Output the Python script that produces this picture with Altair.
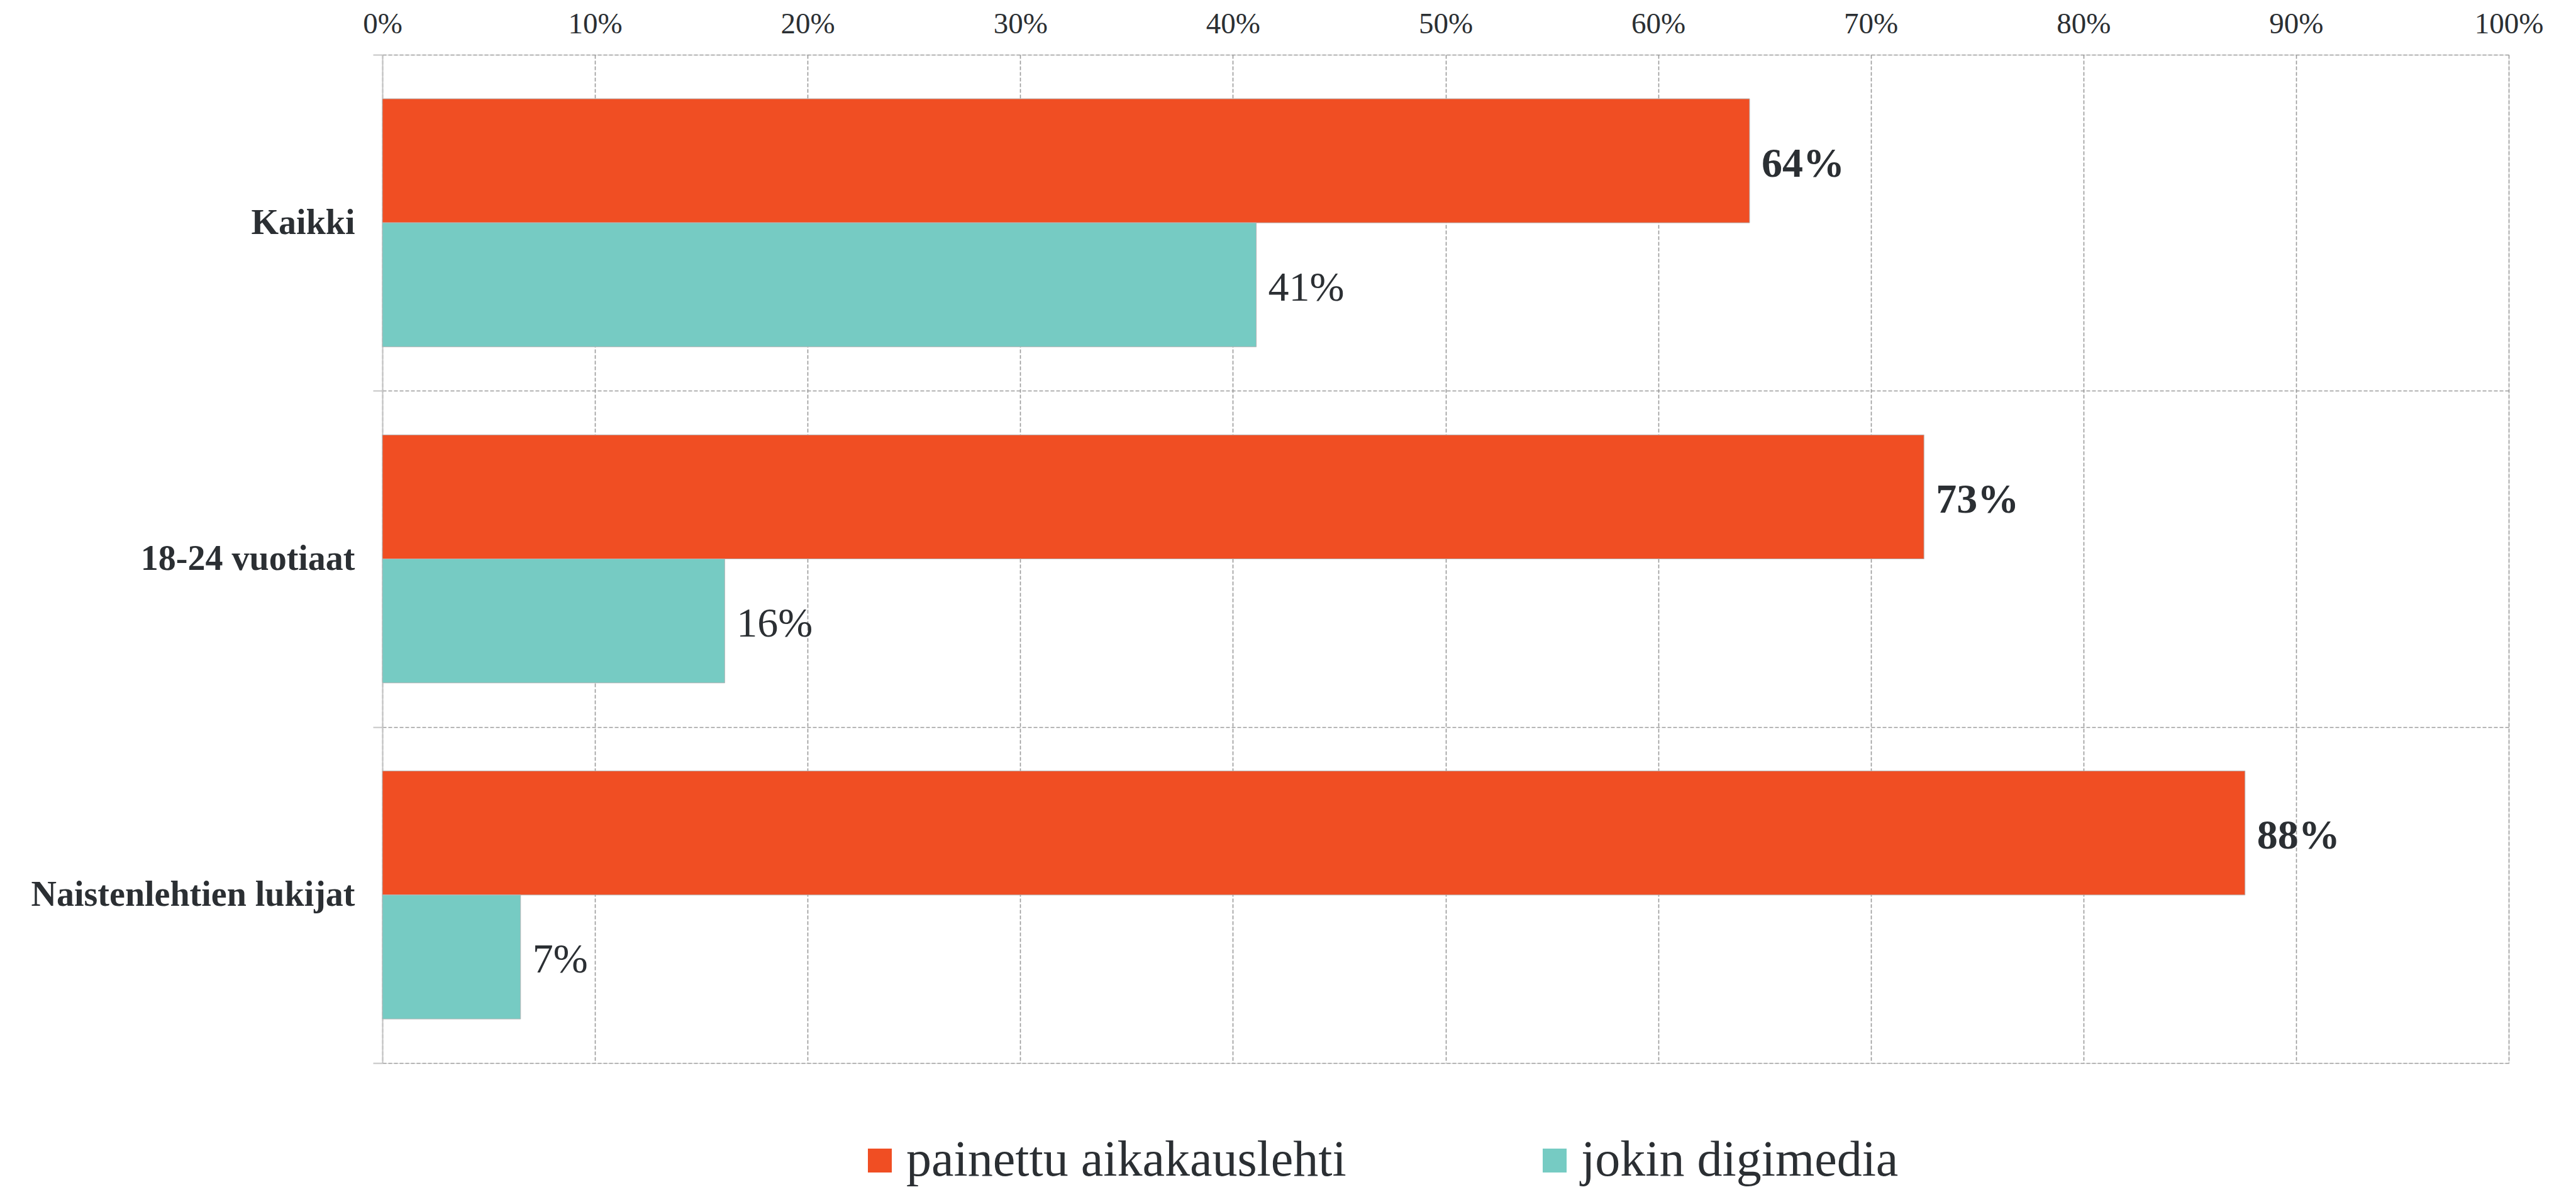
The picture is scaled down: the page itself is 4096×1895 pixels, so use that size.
import altair as alt
import pandas as pd

categories = ["Kaikki", "18-24 vuotiaat", "Naistenlehtien lukijat"]
series = ["painettu aikakauslehti", "jokin digimedia"]
printed = [0.643, 0.725, 0.876]
digital = [0.411, 0.161, 0.065]
printed_labels = ["64%", "73%", "88%"]
digital_labels = ["41%", "16%", "7%"]
colors = ["#F04E23", "#76CBC3"]
x_ticks = [0.0, 0.1, 0.2, 0.3, 0.4, 0.5, 0.6, 0.7, 0.8, 0.9, 1.0]

rows = []
for i, c in enumerate(categories):
    rows.append(dict(cat=c, series=series[0], value=printed[i], label=printed_labels[i]))
    rows.append(dict(cat=c, series=series[1], value=digital[i], label=digital_labels[i]))
df = pd.DataFrame(rows)

FONT = "Liberation Serif"
TEXT = "#2b2f33"
GRID = "#9a9a9a"
W, H = 3381, 1603

y_enc = alt.Y(
    "cat:N",
    sort=categories,
    scale=alt.Scale(paddingInner=0, paddingOuter=0),
    axis=alt.Axis(
        title=None,
        tickBand="extent",
        grid=True,
        gridColor=GRID,
        gridDash=[6, 3],
        gridWidth=1.6,
        domain=True,
        domainColor="#c4c4c4",
        domainWidth=2,
        ticks=True,
        tickSize=15,
        tickColor="#c4c4c4",
        tickWidth=2,
        labelPadding=29,
        labelFont=FONT,
        labelFontSize=56,
        labelFontWeight="bold",
        labelColor=TEXT,
        labelLimit=1000,
    ),
)
yoff_enc = alt.YOffset(
    "series:N", sort=series, scale=alt.Scale(domain=series, paddingInner=0, paddingOuter=0.355)
)
x_enc = alt.X(
    "value:Q",
    scale=alt.Scale(domain=[0, 1], nice=False),
    axis=alt.Axis(
        title=None,
        orient="top",
        values=x_ticks,
        format=".0%",
        grid=True,
        gridColor=GRID,
        gridDash=[6, 3],
        gridWidth=1.6,
        domain=False,
        ticks=False,
        tickSize=0,
        labelFlush=False,
        labelPadding=25,
        labelFont=FONT,
        labelFontSize=47,
        labelColor=TEXT,
    ),
)

base = alt.Chart(df)

bars = base.mark_bar(stroke="#b5b5b5", strokeWidth=1).encode(
    x=x_enc,
    y=y_enc,
    yOffset=yoff_enc,
    color=alt.Color(
        "series:N",
        sort=series,
        scale=alt.Scale(domain=series, range=colors),
        legend=alt.Legend(
            title=None,
            orient="none",
            legendX=751,
            legendY=1718,
            padding=0,
            direction="horizontal",
            symbolType="square",
            symbolSize=1444,
            symbolStrokeWidth=0,
            labelFont=FONT,
            labelFontSize=80,
            labelColor=TEXT,
            labelOffset=2,
            labelLimit=2000,
            columnPadding=291,
        ),
    ),
)

txt_bold = base.transform_filter(alt.datum.series == series[0]).mark_text(
    align="left", baseline="middle", dx=19, dy=5, font=FONT, fontSize=66,
    fontWeight="bold", color=TEXT,
).encode(x="value:Q", y=alt.Y("cat:N", sort=categories), yOffset=alt.YOffset("series:N", sort=series), text="label:N")

txt_reg = base.transform_filter(alt.datum.series == series[1]).mark_text(
    align="left", baseline="middle", dx=19, dy=5, font=FONT, fontSize=66,
    fontWeight="normal", color=TEXT,
).encode(x="value:Q", y=alt.Y("cat:N", sort=categories), yOffset=alt.YOffset("series:N", sort=series), text="label:N")

chart = (
    alt.layer(bars, txt_bold, txt_reg)
    .properties(
        width=W,
        height=H,
        autosize=alt.AutoSizeParams(type="none"),
        padding={"left": 600, "top": 79, "right": 99, "bottom": 197},
    )
    .configure_view(stroke=None)
    .configure(background="white")
)

chart.save("out.html", embed_options={"renderer": "svg", "actions": False})
